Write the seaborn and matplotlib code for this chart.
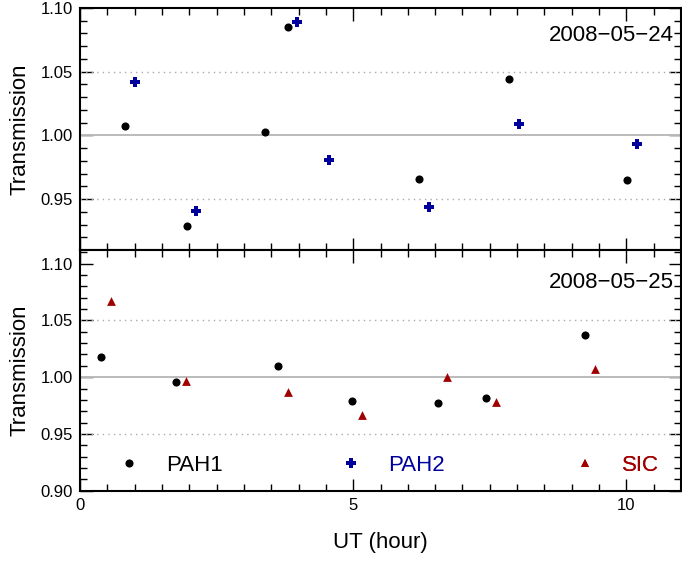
import numpy as np
import pandas as pd
import matplotlib
matplotlib.use("Agg")
import matplotlib.pyplot as plt
from matplotlib.ticker import MultipleLocator, FixedLocator
from matplotlib.lines import Line2D
import seaborn as sns

# ---- data: UT (hour) and relative transmission per filter ----
ut24_pah1 = [0.83, 1.95, 3.38, 3.80, 6.20, 7.85, 10.02]
tr24_pah1 = [1.007, 0.929, 1.003, 1.085, 0.966, 1.044, 0.965]
ut24_pah2 = [1.00, 2.13, 3.98, 4.55, 6.39, 8.03, 10.19]
tr24_pah2 = [1.042, 0.941, 1.089, 0.981, 0.944, 1.009, 0.993]

ut25_pah1 = [0.39, 1.75, 3.63, 4.98, 6.55, 7.44, 9.24]
tr25_pah1 = [1.018, 0.996, 1.010, 0.979, 0.977, 0.982, 1.037]
ut25_sic = [0.56, 1.94, 3.81, 5.16, 6.72, 7.62, 9.42]
tr25_sic = [1.067, 0.997, 0.987, 0.967, 1.000, 0.978, 1.007]

filters = ["PAH1", "PAH2", "SIC"]
dates = ["2008\u221205\u221224", "2008\u221205\u221225"]

colors = {"PAH1": "#000000", "PAH2": "#00009c", "SIC": "#a00000"}
markers = {"PAH1": "o", "PAH2": "P", "SIC": "^"}
sizes = {"PAH1": 34, "PAH2": 46, "SIC": 40}

day24 = pd.DataFrame({
    "UT": ut24_pah1 + ut24_pah2,
    "T": tr24_pah1 + tr24_pah2,
    "filter": ["PAH1"] * len(ut24_pah1) + ["PAH2"] * len(ut24_pah2),
})
day25 = pd.DataFrame({
    "UT": ut25_pah1 + ut25_sic,
    "T": tr25_pah1 + tr25_sic,
    "filter": ["PAH1"] * len(ut25_pah1) + ["SIC"] * len(ut25_sic),
})

sns.set_theme(style="white")
plt.rcParams["font.family"] = ["Liberation Sans", "DejaVu Sans"]
plt.rcParams["axes.linewidth"] = 1.5
plt.rcParams["text.color"] = "black"
plt.rcParams["axes.labelcolor"] = "black"
plt.rcParams["xtick.color"] = "black"
plt.rcParams["ytick.color"] = "black"

fig = plt.figure(figsize=(6.82, 5.61), dpi=100)
left, right = 80 / 682, 681 / 682
ax_top = fig.add_axes([left, 1 - 250 / 561, right - left, 242 / 561])
ax_bot = fig.add_axes([left, 1 - 490.7 / 561, right - left, 240.7 / 561])

panels = [(ax_top, day24, (0.91, 1.10), 0.888),
          (ax_bot, day25, (0.90, 1.112), 0.863)]

for (ax, df, ylim, date_y), date in zip(panels, dates):
    for f in filters:
        sub = df[df["filter"] == f]
        if sub.empty:
            continue
        sns.scatterplot(data=sub, x="UT", y="T", ax=ax, color=colors[f],
                        marker=markers[f], s=sizes[f], linewidth=0,
                        legend=False, zorder=3)
    ax.axhline(1.0, color="#bbbbbb", lw=1.4, zorder=1)
    for yv in (0.95, 1.05):
        ax.axhline(yv, color="#aaaaaa", lw=1.0, ls=(0, (1, 3)), zorder=1)
    ax.set_xlim(0, 11)
    ax.set_ylim(*ylim)
    ax.xaxis.set_major_locator(FixedLocator([0, 5, 10]))
    ax.xaxis.set_minor_locator(MultipleLocator(0.5))
    ax.yaxis.set_major_locator(FixedLocator([0.90, 0.95, 1.00, 1.05, 1.10]))
    ax.yaxis.set_minor_locator(MultipleLocator(0.01))
    ax.yaxis.set_major_formatter(matplotlib.ticker.FormatStrFormatter("%.2f"))
    ax.tick_params(which="both", direction="in", top=True, right=True,
                   bottom=True, left=True, colors="black", labelcolor="black")
    ax.tick_params(which="major", length=9, width=1.0, labelsize=12, pad=5)
    ax.tick_params(which="minor", length=5, width=1.0)
    for sp in ax.spines.values():
        sp.set_color("black")
        sp.set_linewidth(1.5)
    ax.set_ylabel("Transmission", fontsize=16, color="black")
    ax.yaxis.set_label_coords(-0.083, 0.5)
    ax.set_xlabel("")
    ax.text(0.988, date_y, date, transform=ax.transAxes, ha="right",
            va="center", fontsize=16, color="black")

ax_top.tick_params(labelbottom=False)
ax_bot.set_xlabel("UT (hour)", fontsize=16, labelpad=14, color="black")

# legend entries spread across the lower panel
handles = {
    f: Line2D([], [], ls="none", marker=markers[f], color=colors[f],
              markersize=np.sqrt(sizes[f]), markeredgewidth=0)
    for f in filters
}
anchors = {"PAH1": 0.063, "PAH2": 0.432, "SIC": 0.822}
for f in filters:
    leg = ax_bot.legend([handles[f]], [f], loc="center left",
                        bbox_to_anchor=(anchors[f], 0.104), frameon=False,
                        fontsize=16, handlelength=1.0, handletextpad=1.17,
                        borderpad=0, borderaxespad=0)
    for t in leg.get_texts():
        t.set_color(colors[f])
    ax_bot.add_artist(leg)

fig.savefig("out.png", dpi=100)
